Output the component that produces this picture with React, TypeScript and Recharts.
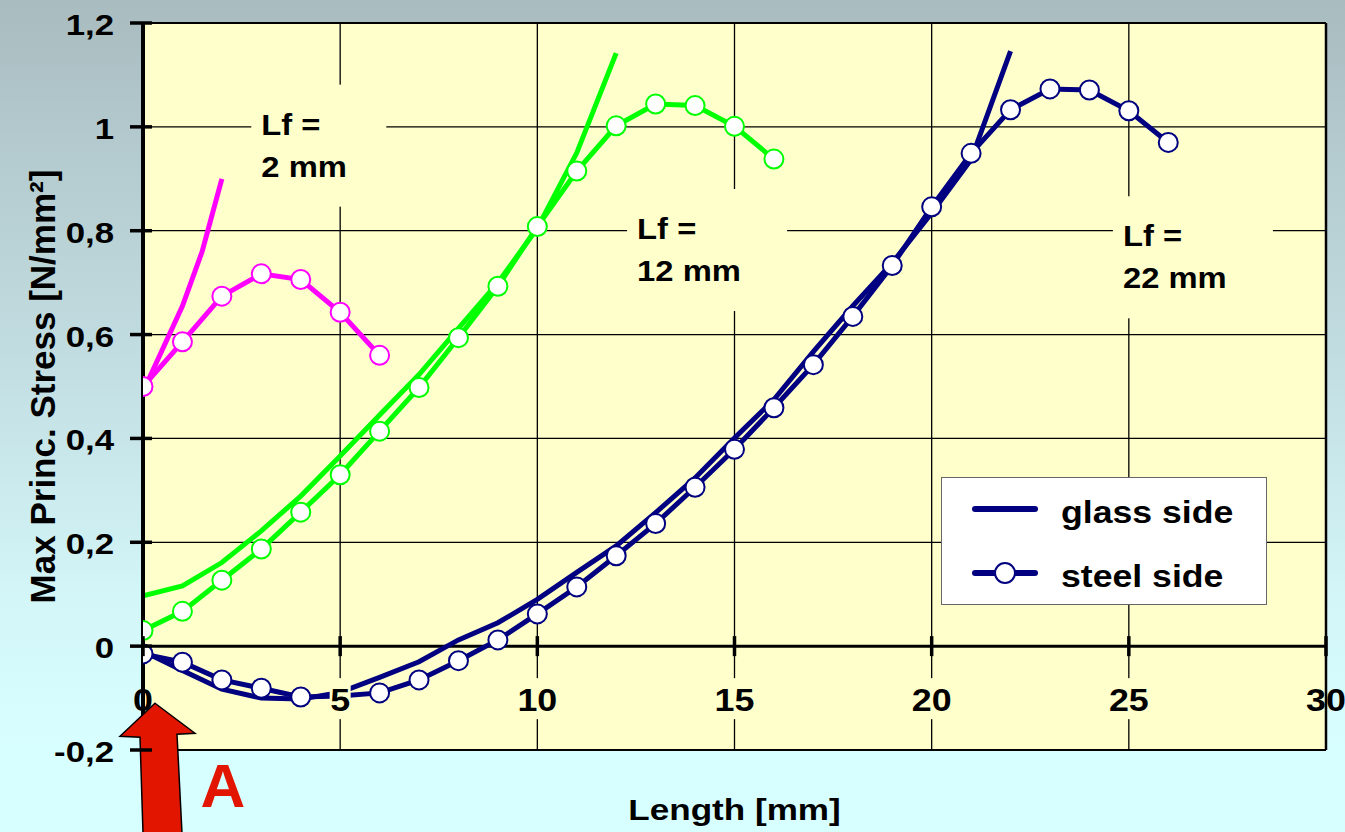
import React from "react";
import {
  LineChart,
  Line,
  XAxis,
  YAxis,
  CartesianGrid,
  ReferenceLine,
  ReferenceDot,
  Legend,
} from "recharts";

// layout (pixels)
const W = 1345;
const H = 832;
const PLOT_LEFT = 143;
const PLOT_TOP = 23;
const PLOT_RIGHT = 1326;
const PLOT_BOTTOM = 750;
const Y_MIN = -0.2;
const Y_MAX = 1.2;
const ZERO_Y = PLOT_TOP + ((PLOT_BOTTOM - PLOT_TOP) * Y_MAX) / (Y_MAX - Y_MIN);

const FONT = "'Liberation Sans', Arial, Helvetica, sans-serif";
const NAVY = "#000080";
const GREEN = "#00FF00";
const MAGENTA = "#FF00FF";
const PLOT_BG = "#FFFFCC";
const RED = "#E21500";

// ---- data ----
const xTicks = [0, 5, 10, 15, 20, 25, 30];
const yTicks = [-0.2, 0, 0.2, 0.4, 0.6, 0.8, 1, 1.2];

// Lf = 2 mm
const magentaGlassX = [0, 1, 1.5, 2];
const magentaGlassY = [0.49, 0.655, 0.76, 0.9];
const magentaSteelX = [0, 1, 2, 3, 4, 5, 6];
const magentaSteelY = [0.5, 0.586, 0.674, 0.717, 0.706, 0.643, 0.56];

// Lf = 12 mm
const greenGlassX = [0, 1, 2, 3, 4, 5, 6, 7, 8, 9, 10, 11, 12];
const greenGlassY = [0.097, 0.116, 0.161, 0.222, 0.289, 0.366, 0.445, 0.523, 0.612, 0.7, 0.805, 0.95, 1.142];
const greenSteelX = [0, 1, 2, 3, 4, 5, 6, 7, 8, 9, 10, 11, 12, 13, 14, 15, 16];
const greenSteelY = [
  0.03, 0.067, 0.127, 0.187, 0.258, 0.33, 0.414, 0.498, 0.594, 0.693, 0.808, 0.915, 1.002, 1.044, 1.041,
  1.001, 0.938,
];

// Lf = 22 mm
const navyGlassX = [0, 1, 2, 3, 4, 5, 6, 7, 8, 9, 10, 11, 12, 13, 14, 15, 16, 17, 18, 19, 20, 21, 22];
const navyGlassY = [
  -0.01, -0.047, -0.083, -0.1, -0.102, -0.089, -0.06, -0.03, 0.012, 0.045, 0.09, 0.142, 0.193, 0.257, 0.324,
  0.401, 0.475, 0.567, 0.655, 0.738, 0.834, 0.937, 1.146,
];
const navySteelX = [
  0, 1, 2, 3, 4, 5, 6, 7, 8, 9, 10, 11, 12, 13, 14, 15, 16, 17, 18, 19, 20, 21, 22, 23, 24, 25, 26,
];
const navySteelY = [
  -0.015, -0.031, -0.065, -0.081, -0.098, -0.096, -0.09, -0.065, -0.028, 0.012, 0.062, 0.114, 0.174, 0.236,
  0.306, 0.379, 0.459, 0.542, 0.635, 0.733, 0.846, 0.949, 1.033, 1.073, 1.071, 1.031, 0.97,
];

// "Lf =" annotations (anchor = start of first text line)
const annoX = [3, 12.53, 24.85];
const annoY = [0.985, 0.784, 0.77];
const annoSecond = ["2 mm", "12 mm", "22 mm"];
const annoBoxW = [135, 160, 160];

// arrow "A" points at x = 0
const arrowX = 0;
const arrowY = -0.11;

const pts = (xs: number[], ys: number[]) => xs.map((x, i) => ({ x, y: ys[i] }));

const fmtY = (v: number) => (Number.isInteger(v) ? String(v) : v.toFixed(1).replace(".", ","));

const XTick = (props: any) => {
  const { x, payload } = props;
  const v = payload.value;
  const edge = v === 0 || v === 30;
  const bw = String(v).length * 19 + 2;
  return (
    <g>
      <line x1={x} x2={x} y1={ZERO_Y - 10} y2={ZERO_Y + 10} stroke="#000" strokeWidth={3.5} />
      {!edge && <rect x={x - bw / 2} y={ZERO_Y + 32} width={bw} height={41} fill={PLOT_BG} />}
      <text
        transform={`translate(${x},${ZERO_Y + 65}) scale(1.12,1)`}
        textAnchor="middle"
        fontFamily={FONT}
        fontWeight="bold"
        fontSize={32}
        fill="#000"
      >
        {v}
      </text>
    </g>
  );
};

const YTick = (props: any) => {
  const { y, payload } = props;
  return (
    <g>
      <line x1={PLOT_LEFT - 13} x2={PLOT_LEFT + 9} y1={y} y2={y} stroke="#000" strokeWidth={3.5} />
      <text
        transform={`translate(114,${y + 12}) scale(1.2,1)`}
        textAnchor="end"
        fontFamily={FONT}
        fontWeight="bold"
        fontSize={29}
        fill="#000"
      >
        {fmtY(payload.value)}
      </text>
    </g>
  );
};

const AnnoShape = (i: number) => (props: any) => {
  const { cx, cy } = props;
  return (
    <g>
      <rect x={cx - 10} y={cy - 50} width={annoBoxW[i]} height={122} fill={PLOT_BG} />
      <text transform={`translate(${cx},${cy}) scale(1.13,1)`} fontFamily={FONT} fontWeight="bold" fontSize={29}>
        Lf =
      </text>
      <text transform={`translate(${cx},${cy + 42}) scale(1.13,1)`} fontFamily={FONT} fontWeight="bold" fontSize={29}>
        {annoSecond[i]}
      </text>
    </g>
  );
};

const ArrowShape = (props: any) => {
  const { cx, cy } = props;
  const p = [
    [12, 0],
    [52, 30],
    [34, 31],
    [39, 130],
    [0, 130],
    [-3, 34],
    [-23, 33],
  ]
    .map(([dx, dy]) => `${cx + dx},${cy + dy}`)
    .join(" ");
  return (
    <g>
      <polygon points={p} fill={RED} stroke="#000" strokeWidth={1.5} strokeLinejoin="miter" />
      <text x={cx + 80} y={cy + 104} textAnchor="middle" fontFamily={FONT} fontWeight="bold" fontSize={62} fill={RED}>
        A
      </text>
    </g>
  );
};

const LegendBox = () => (
  <svg width={326} height={128} style={{ display: "block" }}>
    <rect x={0.5} y={0.5} width={325} height={127} fill="#fff" stroke="#666" strokeWidth={1} />
    <line x1={34} x2={94} y1={32} y2={32} stroke={NAVY} strokeWidth={6} strokeLinecap="round" />
    <text transform="translate(120,46) scale(1.15,1)" fontFamily={FONT} fontWeight="bold" fontSize={31}>
      glass side
    </text>
    <line x1={34} x2={94} y1={96} y2={96} stroke={NAVY} strokeWidth={6} strokeLinecap="round" />
    <circle cx={64} cy={96} r={10} fill="#fff" stroke={NAVY} strokeWidth={2} />
    <text transform="translate(120,110) scale(1.15,1)" fontFamily={FONT} fontWeight="bold" fontSize={31}>
      steel side
    </text>
  </svg>
);

const steelDot = (color: string) => ({ r: 9.5, fill: "#fff", stroke: color, strokeWidth: 2 });

export default function App() {
  return (
    <div
      style={{
        position: "fixed",
        left: 0,
        top: 0,
        width: W,
        height: H,
        background: "linear-gradient(to bottom, #A9BCC0 0%, #C3DFE3 45%, #D3F6F8 72%, #D8FFFF 90%, #D8FFFF 100%)",
      }}
    >
      <LineChart width={W} height={H} margin={{ top: PLOT_TOP, right: W - PLOT_RIGHT, bottom: 0, left: 0 }}>
        <CartesianGrid stroke="#000" strokeWidth={1.3} fill={PLOT_BG} fillOpacity={1} />
        <XAxis
          dataKey="x"
          type="number"
          domain={[0, 30]}
          ticks={xTicks}
          interval={0}
          allowDataOverflow
          axisLine={false}
          tickLine={false}
          tick={XTick}
          height={H - PLOT_BOTTOM}
          label={() => (
            <text
              transform={`translate(${(PLOT_LEFT + PLOT_RIGHT) / 2},820) scale(1.17,1)`}
              textAnchor="middle"
              fontFamily={FONT}
              fontWeight="bold"
              fontSize={30}
              fill="#000"
            >
              Length [mm]
            </text>
          )}
        />
        <YAxis
          type="number"
          domain={[Y_MIN, Y_MAX]}
          ticks={yTicks}
          interval={0}
          allowDataOverflow
          width={PLOT_LEFT}
          axisLine={{ stroke: "#000", strokeWidth: 4 }}
          tickLine={false}
          tick={YTick}
          label={() => (
            <text
              transform={`translate(55,${(PLOT_TOP + PLOT_BOTTOM) / 2}) rotate(-90)`}
              textAnchor="middle"
              fontFamily={FONT}
              fontWeight="bold"
              fontSize={35}
              fill="#000"
            >
              Max Princ. Stress [N/mm²]
            </text>
          )}
        />
        <ReferenceLine y={0} stroke="#000" strokeWidth={3} />
        <ReferenceLine y={Y_MAX} stroke="#000" strokeWidth={2} />
        <ReferenceLine y={Y_MIN} stroke="#000" strokeWidth={2.2} />
        <ReferenceLine x={30} stroke="#000" strokeWidth={2.5} />
        {annoX.map((x, i) => (
          <ReferenceDot key={i} x={x} y={annoY[i]} shape={AnnoShape(i)} ifOverflow="visible" />
        ))}
        <Legend
          layout="horizontal"
          verticalAlign="middle"
          align="center"
          content={LegendBox}
          wrapperStyle={{ left: 941, top: 477, width: 326, height: 128 }}
        />

        <Line data={pts(magentaGlassX, magentaGlassY)} dataKey="y" stroke={MAGENTA} strokeWidth={5} dot={false} isAnimationActive={false} name="glass 2" legendType="none" />
        <Line data={pts(magentaSteelX, magentaSteelY)} dataKey="y" stroke={MAGENTA} strokeWidth={5} dot={steelDot(MAGENTA)} isAnimationActive={false} name="steel 2" legendType="none" />
        <Line data={pts(greenGlassX, greenGlassY)} dataKey="y" stroke={GREEN} strokeWidth={5} dot={false} isAnimationActive={false} name="glass 12" legendType="none" />
        <Line data={pts(greenSteelX, greenSteelY)} dataKey="y" stroke={GREEN} strokeWidth={5} dot={steelDot(GREEN)} isAnimationActive={false} name="steel 12" legendType="none" />
        <Line data={pts(navyGlassX, navyGlassY)} dataKey="y" stroke={NAVY} strokeWidth={5} dot={false} isAnimationActive={false} name="glass side" legendType="none" />
        <Line data={pts(navySteelX, navySteelY)} dataKey="y" stroke={NAVY} strokeWidth={5} dot={steelDot(NAVY)} isAnimationActive={false} name="steel side" legendType="none" />

        <ReferenceDot x={arrowX} y={arrowY} shape={ArrowShape} ifOverflow="visible" />
      </LineChart>
    </div>
  );
}
